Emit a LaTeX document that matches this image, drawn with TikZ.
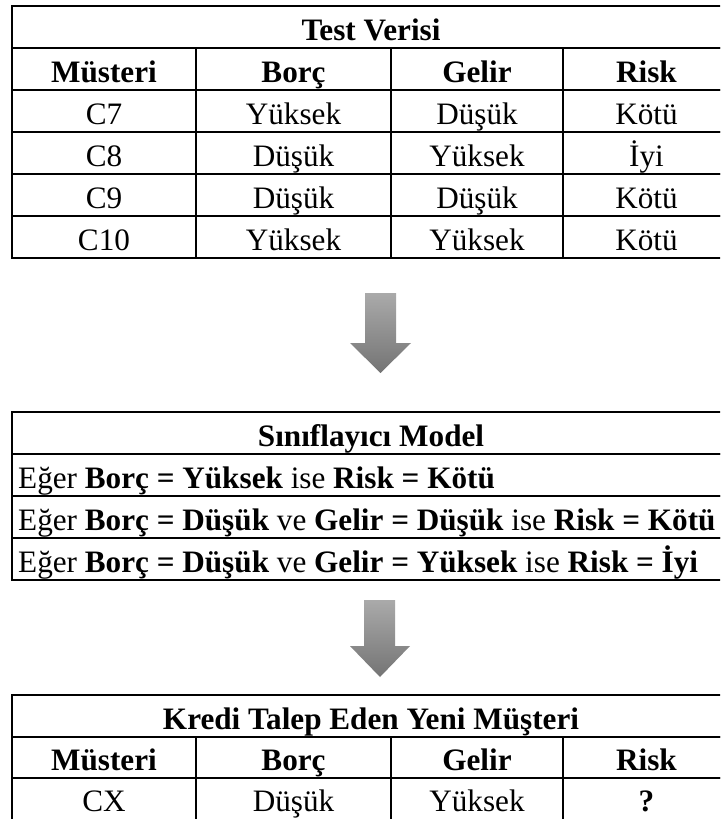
\documentclass[tikz,border=0pt]{standalone}
\usepackage{fontspec}
\setmainfont{Liberation Serif}
\definecolor{arrtop}{RGB}{170,170,170}
\definecolor{arrbot}{RGB}{116,116,116}
\tikzset{
  cellbox/.style={draw=black, line width=2.8pt, inner sep=0pt,
    text height=27pt, text depth=1pt, font=\fontsize{31.2}{37}\selectfont},
  txt/.style={inner sep=0pt, text height=27pt, text depth=1pt,
    font=\fontsize{31.2}{37}\selectfont},
  blockarrow/.style={top color=arrtop, bottom color=arrbot, draw=none},
}
\newcommand{\mycell}[6]{%
  \node[cellbox, minimum width={(#3-#2)*1pt}, minimum height={(#5-#4)*1pt}]
    (#1) at ({(#2+#3)/2},{(#4+#5)/2}) {#6};}
\begin{document}
\begin{tikzpicture}[x=1pt,y=-1pt]
\fill[white] (0,0) rectangle (720,819);
\useasboundingbox (0,0) rectangle (720,819);
\clip (0,0) rectangle (720,819);
% ---- Test table ----
\mycell{tT}{12}{730}{6}{48}{\bfseries Test Verisi}
\mycell{tH1}{12}{196}{48}{90}{\bfseries Müsteri}
\mycell{tH2}{196}{391}{48}{90}{\bfseries Borç}
\mycell{tH3}{391}{563}{48}{90}{\bfseries Gelir}
\mycell{tH4}{563}{730}{48}{90}{\bfseries Risk}
\mycell{tA1}{12}{196}{90}{132}{C7}
\mycell{tA2}{196}{391}{90}{132}{Yüksek}
\mycell{tA3}{391}{563}{90}{132}{Düşük}
\mycell{tA4}{563}{730}{90}{132}{Kötü}
\mycell{tB1}{12}{196}{132}{174}{C8}
\mycell{tB2}{196}{391}{132}{174}{Düşük}
\mycell{tB3}{391}{563}{132}{174}{Yüksek}
\mycell{tB4}{563}{730}{132}{174}{İyi}
\mycell{tC1}{12}{196}{174}{216}{C9}
\mycell{tC2}{196}{391}{174}{216}{Düşük}
\mycell{tC3}{391}{563}{174}{216}{Düşük}
\mycell{tC4}{563}{730}{174}{216}{Kötü}
\mycell{tD1}{12}{196}{216}{258}{C10}
\mycell{tD2}{196}{391}{216}{258}{Yüksek}
\mycell{tD3}{391}{563}{216}{258}{Yüksek}
\mycell{tD4}{563}{730}{216}{258}{Kötü}
% ---- arrow 1 ----
\shade[blockarrow] (365,293) -- (396,293) -- (396,343) -- (411,343) -- (380.5,373)
  -- (350,343) -- (365,343) -- cycle;
% ---- Model table ----
\mycell{mT}{12}{730}{412}{454}{\bfseries Sınıflayıcı Model}
\mycell{mR1}{12}{730}{454}{496}{}
\mycell{mR2}{12}{730}{496}{538}{}
\mycell{mR3}{12}{730}{538}{580}{}
\node[txt, anchor=west] (r1) at (18,475) {Eğer \textbf{Borç = Yüksek} ise \textbf{Risk = Kötü}};
\node[txt, anchor=west] (r2) at (18,517) {Eğer \textbf{Borç = Düşük} ve \textbf{Gelir = Düşük} ise \textbf{Risk = Kötü}};
\node[txt, anchor=west] (r3) at (18,559) {Eğer \textbf{Borç = Düşük} ve \textbf{Gelir = Yüksek} ise \textbf{Risk = İyi}};
% ---- arrow 2 ----
\shade[blockarrow] (364,600) -- (395,600) -- (395,646) -- (410,646) -- (380,677)
  -- (350,646) -- (364,646) -- cycle;
% ---- New customer table ----
\mycell{nT}{12}{730}{695}{737}{\bfseries Kredi Talep Eden Yeni Müşteri}
\mycell{nH1}{12}{196}{737}{778}{\bfseries Müsteri}
\mycell{nH2}{196}{391}{737}{778}{\bfseries Borç}
\mycell{nH3}{391}{563}{737}{778}{\bfseries Gelir}
\mycell{nH4}{563}{730}{737}{778}{\bfseries Risk}
\mycell{nA1}{12}{196}{778}{830}{}
\mycell{nA2}{196}{391}{778}{830}{}
\mycell{nA3}{391}{563}{778}{830}{}
\mycell{nA4}{563}{730}{778}{830}{}
\node[txt] (x1) at (104,798.5) {CX};
\node[txt] (x2) at (293.5,798.5) {Düşük};
\node[txt] (x3) at (477,798.5) {Yüksek};
\node[txt] (x4) at (646.5,798.5) {\bfseries ?};
\end{tikzpicture}
\end{document}
